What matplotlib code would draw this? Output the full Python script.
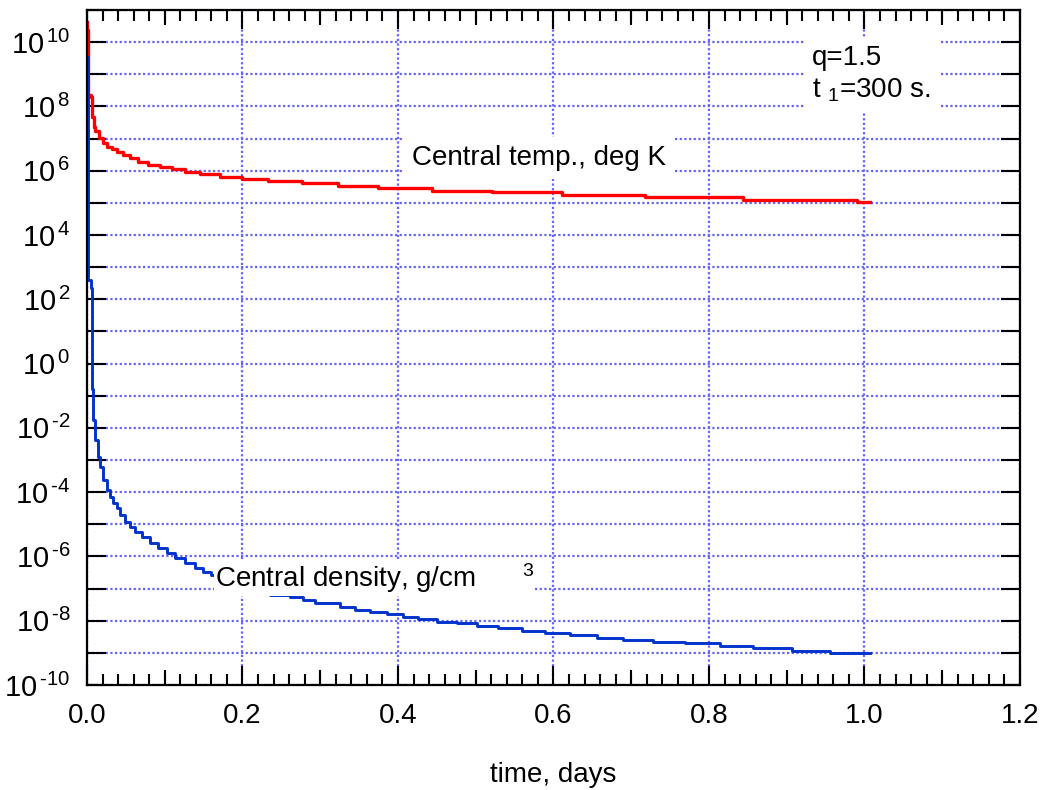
# Temperatura e densidade central em função do tempo (escala log)
import math
import matplotlib.pyplot as plt
from matplotlib.ticker import LogLocator, NullLocator, MultipleLocator, FuncFormatter

plt.rcParams['font.family'] = 'Liberation Sans'
plt.rcParams['mathtext.fontset'] = 'custom'
plt.rcParams['mathtext.rm'] = 'Liberation Sans'
plt.rcParams['mathtext.it'] = 'Liberation Sans:italic'
plt.rcParams['mathtext.bf'] = 'Liberation Sans:bold'

# tempo em dias / temperatura central (K)
tempo_temp = [0.0, 0.0006, 0.0017, 0.0051, 0.0064, 0.0084, 0.0103, 0.0154, 0.0206,
              0.0253, 0.0318, 0.0382, 0.0467, 0.0553, 0.0656, 0.0785, 0.0939, 0.109,
              0.126, 0.145, 0.171, 0.200, 0.233, 0.277, 0.323, 0.374, 0.444, 0.521,
              0.611, 0.718, 0.844, 0.990, 1.007]
temp = [4.3e10, 2.4e10, 2.3e8, 2.0e8, 4.7e7, 2.3e7, 1.7e7, 1.04e7, 7.3e6,
        5.6e6, 4.7e6, 3.9e6, 3.1e6, 2.45e6, 1.9e6, 1.5e6, 1.28e6, 1.13e6,
        9.3e5, 7.9e5, 6.5e5, 5.5e5, 4.8e5, 4.1e5, 3.4e5, 2.85e5, 2.4e5, 2.14e5,
        1.8e5, 1.5e5, 1.23e5, 1.09e5, 1.09e5]

# tempo em dias / densidade central (g/cm3)
tempo_dens = [0.0, 0.0017, 0.0051, 0.0064, 0.0081, 0.0103, 0.0145, 0.0167, 0.021,
              0.0253, 0.0296, 0.0338, 0.0382, 0.0424, 0.0489, 0.0553, 0.0617, 0.0704,
              0.0810, 0.0917, 0.1025, 0.1132, 0.126, 0.139, 0.1496, 0.160, 0.184,
              0.210, 0.2354, 0.261, 0.278, 0.293, 0.325, 0.345, 0.364, 0.386, 0.406,
              0.426, 0.450, 0.476, 0.502, 0.529, 0.559, 0.589, 0.621, 0.656, 0.689,
              0.728, 0.769, 0.814, 0.857, 0.907, 0.956, 1.007]
dens = [3.5e9, 4.0e2, 2.2e2, 1.6e-1, 1.8e-2, 4.2e-3, 1.2e-3, 6.0e-4, 2.4e-4,
        1.2e-4, 7.2e-5, 4.5e-5, 3.2e-5, 1.95e-5, 1.2e-5, 8.5e-6, 5.9e-6, 4.1e-6,
        2.6e-6, 1.8e-6, 1.26e-6, 8.7e-7, 6.2e-7, 4.3e-7, 3.4e-7, 2.6e-7, 1.4e-7,
        9.0e-8, 6.3e-8, 5.4e-8, 4.4e-8, 3.5e-8, 2.75e-8, 2.15e-8, 1.82e-8, 1.58e-8, 1.33e-8,
        1.1e-8, 9.3e-9, 8.3e-9, 6.9e-9, 5.75e-9, 4.9e-9, 4.3e-9, 3.6e-9, 3.0e-9, 2.6e-9,
        2.24e-9, 2.0e-9, 1.62e-9, 1.38e-9, 1.17e-9, 1.0e-9, 1.0e-9]

x_ticks = [0.0, 0.2, 0.4, 0.6, 0.8, 1.0, 1.2]
x_meio = [0.1, 0.3, 0.5, 0.7, 0.9, 1.1]

fs = 20

fig = plt.figure(figsize=(10.43, 7.90), dpi=100)
ax = fig.add_axes([0.0834, 0.1329, 0.8945, 0.8544])

ax.plot(tempo_temp, temp, color='#ff0000', lw=2.4, drawstyle='steps-post', zorder=2)
ax.plot(tempo_dens, dens, color='#0033cc', lw=2.1, drawstyle='steps-post', zorder=2)

ax.set_yscale('log')
ax.set_ylim(1e-10, 1e11)
ax.set_xlim(0, 1.2)

ax.yaxis.set_major_locator(LogLocator(base=10, numticks=40))
ax.yaxis.set_minor_locator(NullLocator())


def rotulo_y(v, pos):
    e = int(round(math.log10(v)))
    if e % 2:
        return ''
    if e < 0:
        return r'$\mathregular{10^{\,\text{-}%d}}$' % -e
    return r'$\mathregular{10^{\,%d}}$' % e


ax.yaxis.set_major_formatter(FuncFormatter(rotulo_y))
ax.set_xticks(x_ticks)
ax.set_xticklabels(['%.1f' % v for v in x_ticks])
ax.xaxis.set_minor_locator(MultipleLocator(0.02))

ax.tick_params(which='major', direction='in', length=14, width=1.5,
               top=True, right=True, labelsize=fs)
ax.tick_params(axis='y', which='major', pad=12, labelsize=21)
ax.tick_params(axis='x', which='major', pad=13)
ax.tick_params(axis='x', which='minor', direction='in', length=8, width=1.5, top=True)

# ticks intermediários (0.1, 0.3, ...)
for lado in ('bottom', 'top'):
    sec = ax.secondary_xaxis(lado)
    sec.set_xticks(x_meio)
    sec.tick_params(direction='in', length=11, width=1.5,
                    labelbottom=False, labeltop=False)
    sec.spines[lado].set_visible(False)

for s in ax.spines.values():
    s.set_linewidth(1.6)

ax.grid(True, which='major', color='#6464ff', linestyle=(0, (1, 1.1)), linewidth=1.6)

ax.set_xlabel('time, days', fontsize=fs, labelpad=24)

ax.text(0.418, 10**6.18, 'Central temp., deg K', fontsize=fs, va='baseline',
        bbox=dict(facecolor='white', edgecolor='none', boxstyle='square,pad=0.3'),
        zorder=3)
ax.text(0.1646, 10**-6.95, r'Central density, g/cm$\mathregular{\qquad^{3}}$',
        fontsize=fs, va='baseline',
        bbox=dict(facecolor='white', edgecolor='none', boxstyle='square,pad=0.05'),
        zorder=3)
ax.text(0.9325, 10**9.0, 'q=1.5\n' + r't $\mathregular{_1}$=300 s.', fontsize=fs,
        va='center', linespacing=1.25,
        bbox=dict(facecolor='white', edgecolor='none', boxstyle='square,pad=0.3'),
        zorder=3)

fig.savefig('out.png', dpi=100)
